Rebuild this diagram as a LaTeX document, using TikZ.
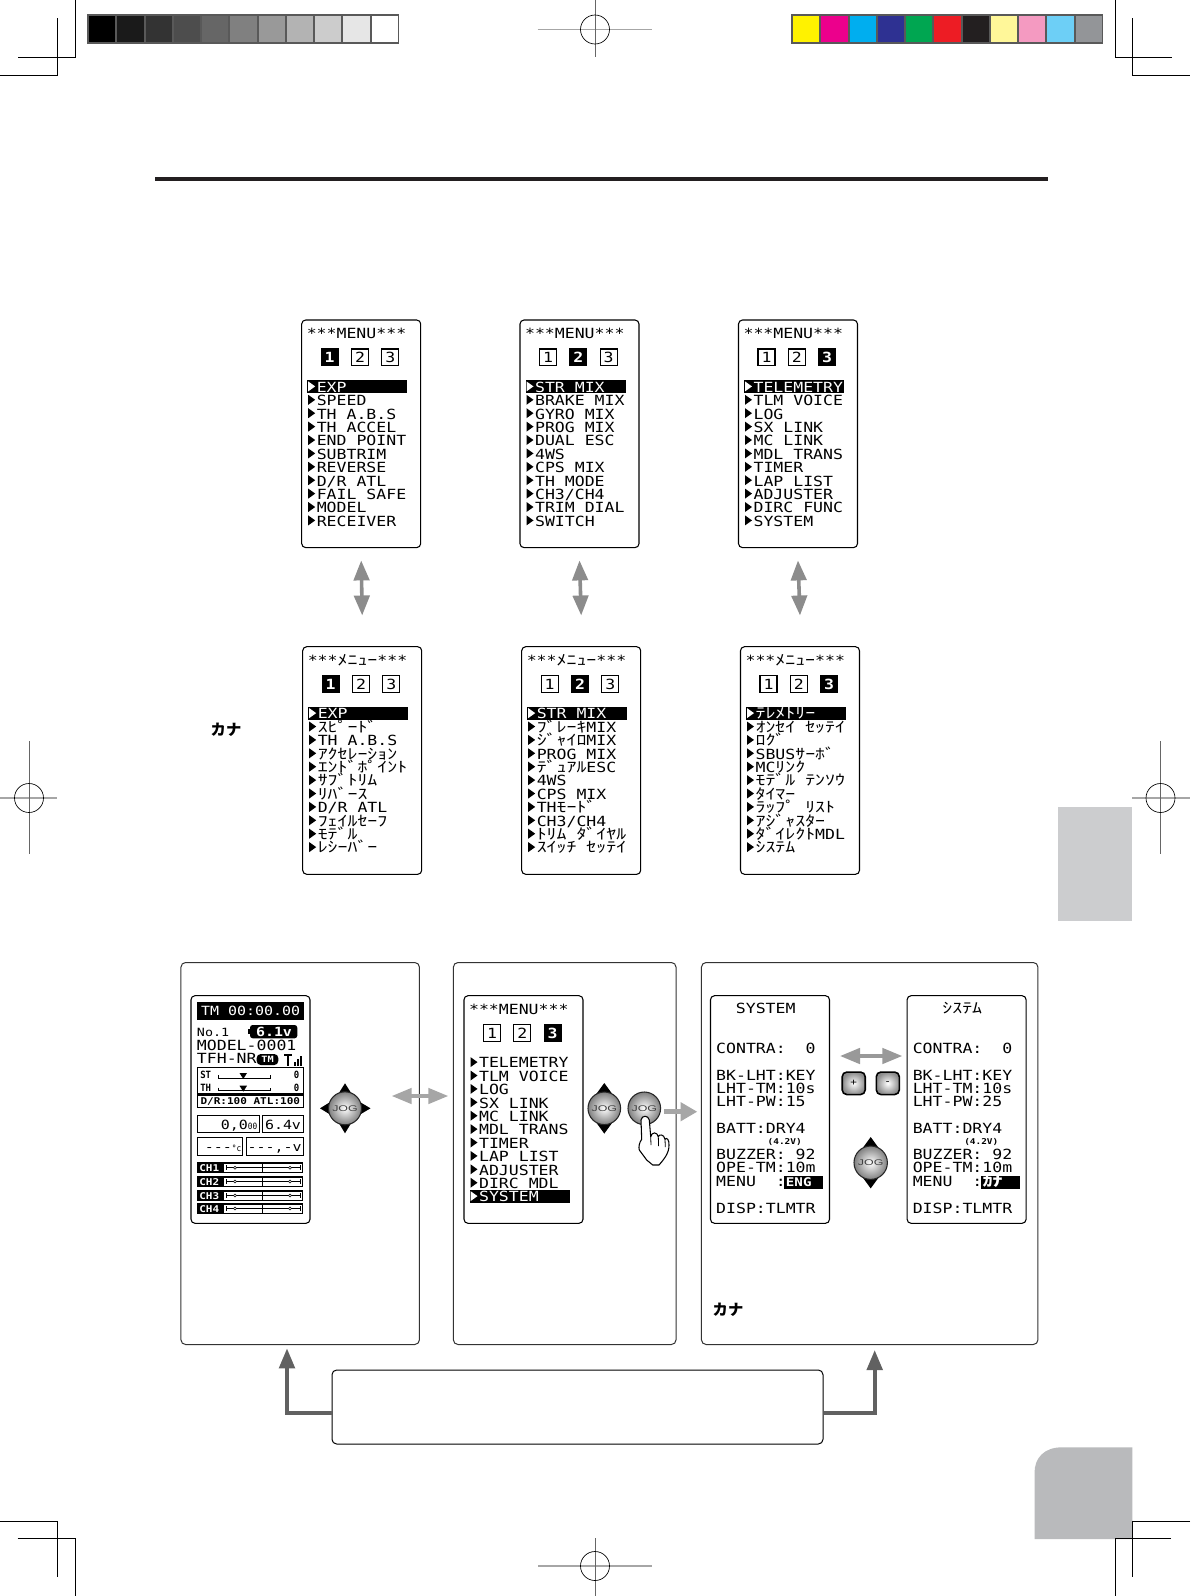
\documentclass[tikz,border=0pt]{standalone}
\usepackage{fontspec}
\usetikzlibrary{arrows.meta}
\newfontfamily\lcdfam[FakeStretch=1.18]{DejaVu Sans Mono}
\newfontfamily\condfam[FakeStretch=0.9]{DejaVu Sans Mono}
\newfontfamily\kanafam[FakeStretch=1.355]{Noto Sans CJK JP}
\newfontfamily\jpfam{Noto Sans CJK JP}
\newfontfamily\jogfam[FakeStretch=1.5]{Liberation Sans}
\newcommand\sz[1]{\fontsize{#1}{#1}\selectfont}
\newcommand\lcd{\lcdfam\sz{10.5pt}}
\newcommand\K[1]{{\kanafam\sz{11pt}#1}}
\def\p{*0.75pt}
\definecolor{rulec}{HTML}{231F20}
\definecolor{barframe}{HTML}{595959}
\definecolor{tabup}{HTML}{CCCDCF}
\definecolor{tablow}{HTML}{B9BABC}
\tikzset{
  screen/.style={draw=black,fill=white,line width=0.8pt,rounded corners=3pt,minimum width=119\p,minimum height=227.6\p,inner sep=0pt},
  panel/.style={draw=black!80,fill=white,line width=0.75pt,rounded corners=3.5pt,inner sep=0pt},
  row/.style={anchor=base west,inner sep=0pt,font=\lcd},
  mid/.style={anchor=base,inner sep=0pt,font=\lcd},
  tabbox/.style={draw=black,fill=white,line width=0.85pt,minimum width=17\p,minimum height=16.5\p,inner sep=0pt,font=\lcd},
  tabsel/.style={draw=black,fill=black,text=white,line width=0.85pt,minimum width=17\p,minimum height=16.5\p,inner sep=0pt,font=\lcdfam\bfseries\sz{10.5pt}},
  selbar/.style={fill=black,minimum width=100\p,minimum height=13.2\p,inner sep=0pt},
  cropline/.style={line width=0.75pt,draw=black},
  regline/.style={line width=1.1pt,draw=black!35},
  regv/.style={line width=0.6pt,draw=black!60},
  dbl/.style={draw=black!45,line width=2.7pt,{Triangle[length=15pt,width=11.5pt]}-{Triangle[length=15pt,width=11.5pt]}},
  upa/.style={draw=black!62,line width=3pt,-{Triangle[length=15pt,width=11.5pt]}},
  joglabel/.style={circle,draw=black!85,line width=0.8pt,inner color=white,outer color=black!50,inner sep=0pt,font=\jogfam\sz{6.2pt},text=black!75},
  hl/.style={fill=black,inner sep=0pt},
  lbox/.style={draw=black,fill=white,line width=0.8pt,inner sep=0pt},
}
% name, left, top, active tab, selected row, title, rows
\newcommand{\menuscr}[7]{%
  \node[screen] (#1) at (#2+59.5,#3+113.8) {};
  \node[mid] (#1t) at (#2+54.8,#3+18.5) {#6};
  \foreach \n/\dx in {1/28,2/58.3,3/88.7}{%
    \ifnum\n=#4\relax
      \node[tabsel] (#1n\n) at (#2+\dx,#3+37.3) {\n};
    \else
      \node[tabbox] (#1n\n) at (#2+\dx,#3+37.3) {\n};
    \fi
  }
  \foreach \mt [count=\i] in {#7}{%
    \pgfmathsetmacro\yy{#3+66.4+(\i-1)*13.4}
    \ifnum\i=#5\relax
      \node[selbar] (#1b) at (#2+55.7,\yy) {};
      \fill[white] (#2+6.5,\yy-5) -- (#2+13.5,\yy) -- (#2+6.5,\yy+5) -- cycle;
      \node[row,text=white] (#1r\i) at (#2+14.8,\yy+5.8) {\mt};
    \else
      \fill[black] (#2+6.5,\yy-5) -- (#2+13.5,\yy) -- (#2+6.5,\yy+5) -- cycle;
      \node[row] (#1r\i) at (#2+14.8,\yy+5.8) {\mt};
    \fi
  }
}
% name, x, y, radius
\newcommand{\jogv}[4]{%
  \fill[black] (#2,#3-#4-9) -- (#2+8,#3-#4+2) -- (#2-8,#3-#4+2) -- cycle;
  \fill[black] (#2,#3+#4+9) -- (#2+8,#3+#4-2) -- (#2-8,#3+#4-2) -- cycle;
  \node[joglabel,minimum size=#4*2\p] (#1) at (#2,#3) {JOG};
}
\newcommand{\jogball}[4]{\node[joglabel,minimum size=#4*2\p] (#1) at (#2,#3) {JOG};}
\newcommand{\regmark}[6]{%
  \draw[regline] (#3,#2) -- (#4,#2);
  \draw[regv] (#1,#5) -- (#1,#6);
  \draw[black,line width=0.5pt] (#1,#2) circle[radius=14.5];
}
\begin{document}
\begin{tikzpicture}[x=0.75pt,y=-0.75pt]
\useasboundingbox (0,0) rectangle (1190,1596);
\fill[white] (0,0) rectangle (1190,1596);

% gray tabs
\fill[tabup] (1057.7,807) rectangle (1132,921);
\fill[tablow] (1132.4,1447.3) -- (1062,1447.3) .. controls (1044,1447.3) and (1034.5,1458) .. (1034.5,1473) -- (1034.5,1539) -- (1132.4,1539) -- cycle;

% crop marks
\draw[cropline] (75.4,0) -- (75.4,57.3) -- (18,57.3);
\draw[cropline] (57.4,18) -- (57.4,75.3) -- (0,75.3);
\draw[cropline] (1115.4,0) -- (1115.4,57.3) -- (1172,57.3);
\draw[cropline] (1132.4,18) -- (1132.4,75.3) -- (1190,75.3);
\draw[cropline] (0,1521) -- (57,1521) -- (57,1577);
\draw[cropline] (17.5,1538) -- (75.9,1538) -- (75.9,1596);
\draw[cropline] (1190,1521) -- (1132.4,1521) -- (1132.4,1577);
\draw[cropline] (1171,1538) -- (1115,1538) -- (1115,1596);

% registration marks
\regmark{595}{29.5}{537.5}{652}{0}{57}
\regmark{595}{1566}{538}{652}{1538}{1596}
\regmark{29}{798}{0}{57}{741}{854}
\regmark{1160.5}{798}{1132}{1190}{741}{854}

% colour bars
\fill[barframe] (87,14) rectangle (399,44);
\foreach \c [count=\i from 0] in {000000,1A1A1A,333333,4D4D4D,666666,808080,999999,B3B3B3,CCCCCC,E6E6E6,FFFFFF}{
  \definecolor{tmpc}{HTML}{\c}
  \fill[tmpc] (89+\i*28.25,16) rectangle ++(26.4,26);
}
\fill[barframe] (791,14) rectangle (1103,44);
\foreach \c [count=\i from 0] in {FFF200,EC008C,00AEEF,2E3192,00A651,ED1C24,231F20,FFF799,F49AC1,6DCFF6,939598}{
  \definecolor{tmpc}{HTML}{\c}
  \fill[tmpc] (793+\i*28.25,16) rectangle ++(26.4,26);
}

% title rule
\fill[rulec] (155,177) rectangle (1047.5,181);

% English menus
\menuscr{sa}{301.7}{320}{1}{1}{***MENU***}{EXP,SPEED,TH A.B.S,TH ACCEL,END POINT,SUBTRIM,REVERSE,D/R ATL,FAIL SAFE,MODEL,RECEIVER}
\menuscr{sb}{520}{320}{2}{1}{***MENU***}{STR MIX,BRAKE MIX,GYRO MIX,PROG MIX,DUAL ESC,4WS,CPS MIX,TH MODE,CH3/CH4,TRIM DIAL,SWITCH}
\menuscr{sc}{738.5}{320}{3}{1}{***MENU***}{TELEMETRY,TLM VOICE,LOG,SX LINK,MC LINK,MDL TRANS,TIMER,LAP LIST,ADJUSTER,DIRC FUNC,SYSTEM}

% Kana menus
\menuscr{ka}{302.7}{646.7}{1}{1}{***\K{ﾒﾆｭｰ}***}{EXP,\K{ｽﾋﾟｰﾄﾞ},TH A.B.S,\K{ｱｸｾﾚｰｼｮﾝ},\K{ｴﾝﾄﾞﾎﾟｲﾝﾄ},\K{ｻﾌﾞﾄﾘﾑ},\K{ﾘﾊﾞｰｽ},D/R ATL,\K{ﾌｪｲﾙｾｰﾌ},\K{ﾓﾃﾞﾙ},\K{ﾚｼｰﾊﾞｰ}}
\menuscr{kb}{521.7}{646.7}{2}{1}{***\K{ﾒﾆｭｰ}***}{STR MIX,\K{ﾌﾞﾚｰｷ}MIX,\K{ｼﾞｬｲﾛ}MIX,PROG MIX,\K{ﾃﾞｭｱﾙ}ESC,4WS,CPS MIX,TH\K{ﾓｰﾄﾞ},CH3/CH4,\K{ﾄﾘﾑ}\ \K{ﾀﾞｲﾔﾙ},\K{ｽｲｯﾁ}\ \K{ｾｯﾃｲ}}
\menuscr{kc}{740.5}{646.7}{3}{1}{***\K{ﾒﾆｭｰ}***}{\K{ﾃﾚﾒﾄﾘｰ},\K{ｵﾝｾｲ}\ \K{ｾｯﾃｲ},\K{ﾛｸﾞ},SBUS\K{ｻｰﾎﾞ},MC\K{ﾘﾝｸ},\K{ﾓﾃﾞﾙ}\ \K{ﾃﾝｿｳ},\K{ﾀｲﾏｰ},\K{ﾗｯﾌﾟ}\ \K{ﾘｽﾄ},\K{ｱｼﾞｬｽﾀｰ},\K{ﾀﾞｲﾚｸﾄ}MDL,\K{ｼｽﾃﾑ}}

% vertical double arrows
\draw[dbl] ([yshift=-9.2pt]sa.south) -- ([yshift=23pt]ka.north);
\draw[dbl] ([yshift=-9.2pt]sb.south) -- ([yshift=23pt]kb.north);
\draw[dbl] ([yshift=-9.2pt]sc.south) -- ([yshift=23pt]kc.north);

\node[inner sep=0pt,font=\jpfam\bfseries\sz{11.5pt}] (kana1) at (226,730) {カナ};

% bottom panels
\node[panel,minimum width=238.5\p,minimum height=382\p] (p1) at (300.2,1153.5) {};
\node[panel,minimum width=222.7\p,minimum height=382\p] (p2) at (564.7,1153.5) {};
\node[panel,minimum width=336.5\p,minimum height=382\p] (p3) at (869.7,1153.5) {};
\node[inner sep=0pt,font=\jpfam\bfseries\sz{11.5pt}] (kana2) at (728,1310) {カナ};

% home screen
\node[screen] (home) at (250.5,1109.5) {};
\node[hl,minimum width=106.7\p,minimum height=17.7\p,text=white,font=\lcdfam\sz{9.5pt}] (hclock) at (250.7,1011.2) {TM 00:00.00};
\node[row,font=\lcdfam\sz{8.5pt}] (hno) at (196.7,1036) {No.1};
\fill[black,rounded corners=2pt] (250,1025) rectangle (297.3,1038.3);
\fill[black] (248,1029) rectangle (251,1034);
\node[mid,text=white,font=\lcdfam\bfseries\sz{9.5pt}] (hbatt) at (274,1036.3) {6.1v};
\node[row] (hmodel) at (196.7,1050.3) {MODEL-0001};
\node[row] (htfh) at (196.7,1063.6) {TFH-NR};
\node[hl,rounded corners=3pt,minimum width=21.6\p,minimum height=11\p,text=white,font=\lcdfam\bfseries\sz{6.5pt}] (htm) at (267.5,1059.5) {TM};
\draw[black,line width=1pt] (284,1055) -- (292,1055) (288,1055) -- (288,1066);
\draw[black,line width=1pt] (295,1066) -- (295,1062) (298,1066) -- (298,1059) (301,1066) -- (301,1056);
\draw[black,line width=1pt] (197.3,1067.3) rectangle (303.3,1093.3);
\node[row,font=\condfam\bfseries\sz{7.5pt}] (hst) at (200,1078.8) {ST};
\node[row,font=\condfam\bfseries\sz{7.5pt}] (hth) at (200,1091.5) {TH};
\foreach \yy/\nn in {1078/a,1090.7/b}{
  \draw[black,line width=0.6pt] (218.3,\yy-3) -- (218.3,\yy) -- (270,\yy) -- (270,\yy-3);
  \fill[black] (239.5,\yy-5) -- (247,\yy-5) -- (243.3,\yy+1) -- cycle;
  \node[row,font=\condfam\bfseries\sz{7.5pt}] (hz\nn) at (293.5,\yy+0.8) {0};
}
\draw[black,line width=1pt] (197.3,1095) rectangle (303.3,1107.7);
\node[mid,font=\lcdfam\bfseries\sz{7pt}] (hdr) at (250.3,1104.7) {D/R:100 ATL:100};
\node[lbox,minimum width=62\p,minimum height=16.7\p] (hspd) at (228.3,1124.3) {};
\node[lbox,minimum width=41\p,minimum height=16.7\p] (hv) at (282.8,1124.3) {};
\node[lbox,minimum width=45.4\p,minimum height=17.7\p] (htemp) at (220,1146.2) {};
\node[lbox,minimum width=57.3\p,minimum height=17.7\p] (hv2) at (274.7,1146.2) {};
\node[anchor=base east,inner sep=0pt,font=\lcdfam\sz{9.5pt}] (hspdt) at (257.5,1129) {0,0{\condfam\sz{6.5pt}00}};
\node[mid,font=\lcdfam\sz{9.5pt}] (hvt) at (283,1129) {6.4v};
\node[anchor=base east,inner sep=0pt,font=\lcdfam\sz{9.5pt}] (htempt) at (241.5,1151) {---{\condfam\sz{6.5pt}°c}};
\node[mid,font=\lcdfam\sz{9.5pt}] (hv2t) at (274.7,1151) {---,-v};
\foreach \tp/\cc in {1162.3/1,1176/2,1190/3,1203/4}{
  \fill[black] (197.3,\tp) rectangle (303.3,\tp+11);
  \fill[white] (224,\tp+1.5) rectangle (302,\tp+9.5);
  \draw[black,line width=0.6pt] (226,\tp+5.5) -- (300,\tp+5.5);
  \draw[black,line width=0.7pt] (262.3,\tp) -- (262.3,\tp+11);
  \draw[black,line width=0.5pt] (226,\tp+3) -- (226,\tp+8) (300,\tp+3) -- (300,\tp+8);
  \draw[black,fill=white,line width=0.4pt] (235,\tp+5.5) circle[radius=1.5] (290,\tp+5.5) circle[radius=1.5];
  \node[row,text=white,font=\lcdfam\bfseries\sz{7pt}] (hch\cc) at (199,\tp+9) {CH\cc};
}
% jog panel 1
\fill[black] (345,1083.3) -- (353,1096) -- (337,1096) -- cycle;
\fill[black] (345,1133.3) -- (353,1120) -- (337,1120) -- cycle;
\fill[black] (320,1108.3) -- (333,1100.3) -- (333,1116.3) -- cycle;
\fill[black] (370.5,1108.3) -- (357,1100.3) -- (357,1116.3) -- cycle;
\node[joglabel,minimum size=33\p] (j1) at (345,1108.3) {JOG};
\coordinate (d1a) at (391.7,1096);
\coordinate (d1b) at (448.3,1096);
\draw[dbl,draw=black!35] (d1a) -- (d1b);

% menu screen panel 2
\menuscr{sd}{464}{995.7}{3}{11}{***MENU***}{TELEMETRY,TLM VOICE,LOG,SX LINK,MC LINK,MDL TRANS,TIMER,LAP LIST,ADJUSTER,DIRC MDL,SYSTEM}
\jogv{j2}{604.3}{1108.3}{16.3}
\jogball{j3}{644.3}{1108.3}{16.3}
% hand
\draw[black,fill=white,line width=0.8pt,line join=round]
  (641.7,1139.3) -- (641,1120) .. controls (641.7,1115) and (648.3,1115) .. (649.3,1120)
  -- (650.7,1136.7) .. controls (651.7,1131.7) and (657.3,1131.7) .. (658.3,1136.7)
  .. controls (659.3,1134) and (664,1134) .. (665,1139.3)
  .. controls (666.7,1136.7) and (669.3,1140) .. (669,1145)
  .. controls (669.3,1153.3) and (663.3,1160) .. (659,1165)
  -- (652.7,1165) -- (646.7,1160) -- (639.3,1150) .. controls (638.3,1147) and (639.5,1142) .. (641.7,1139.3) -- cycle;
\draw[black,line width=0.6pt] (650.7,1136.7) -- (651,1145) (658.3,1136.7) -- (658.6,1146) (665,1139.3) -- (665.3,1147);
\coordinate (a3s) at (664,1111.7);
\coordinate (a3e) at (697.3,1111.7);
\draw[draw=black!35,line width=4pt,-{Triangle[length=12.5pt,width=13.5pt]}] (a3s) -- (a3e);

% system screens
\newcommand{\sysscreen}[5]{%
  \node[screen] (#1) at (#2+59.3,1109.5) {};
  \node[mid] (#1t) at (#2+55,1013.5) {#3};
  \foreach \tx/\ty/\nn in {{CONTRA:\ \ 0}/1053.2/a,{BK-LHT:KEY}/1080.2/b,{LHT-TM:10s}/1093.5/c,{LHT-PW:#4}/1106.8/d,{BATT:DRY4}/1133.5/e,{BUZZER:\ 92}/1159.5/f,{OPE-TM:10m}/1172.8/g,{MENU\ \ :}/1186.7/h,{DISP:TLMTR}/1213.2/i}{
    \node[row] (#1\nn) at (#2+5.2,\ty) {\tx};
  }
  \node[mid,font=\lcdfam\bfseries\sz{6pt}] (#1v) at (#2+74,1144.5) {(4.2V)};
  \node[hl,minimum width=39\p,minimum height=12.7\p] (#1hl) at (#2+92.8,1182.4) {};
  \node[anchor=base west,inner sep=0pt,text=white,font=\lcdfam\bfseries\sz{9pt}] (#1m) at (#2+75,1186.7) {#5};
}
\sysscreen{se}{710.7}{SYSTEM}{15}{ENG}
\sysscreen{sf}{907.3}{\K{ｼｽﾃﾑ}}{25}{\K{ｶﾅ}}
\coordinate (a4s) at (840,1056);
\coordinate (a4e) at (902.3,1056);
\draw[dbl,draw=black!40] (a4s) -- (a4e);
\node[draw=black,line width=1.2pt,rounded corners=3.5pt,inner color=white,outer color=black!45,minimum width=23\p,minimum height=22.5\p,inner sep=0pt,font=\lcdfam\sz{7pt}] (bp) at (853.7,1083.3) {+};
\node[draw=black,line width=1.2pt,rounded corners=3.5pt,inner color=white,outer color=black!45,minimum width=23\p,minimum height=22.5\p,inner sep=0pt,font=\lcdfam\sz{7pt}] (bm) at (887.8,1083.3) {-};
\jogv{j4}{870.7}{1162.7}{16.7}

% bottom box and connectors
\node[panel,draw=black,minimum width=491\p,minimum height=74\p] (box) at (577.5,1407) {};
\coordinate (ul) at (287,1348.3);
\coordinate (ur) at (874.7,1350);
\draw[upa] ([yshift=-4.3pt]box.west) -| (ul);
\draw[upa] ([yshift=-4.3pt]box.east) -| (ur);
\end{tikzpicture}
\end{document}
